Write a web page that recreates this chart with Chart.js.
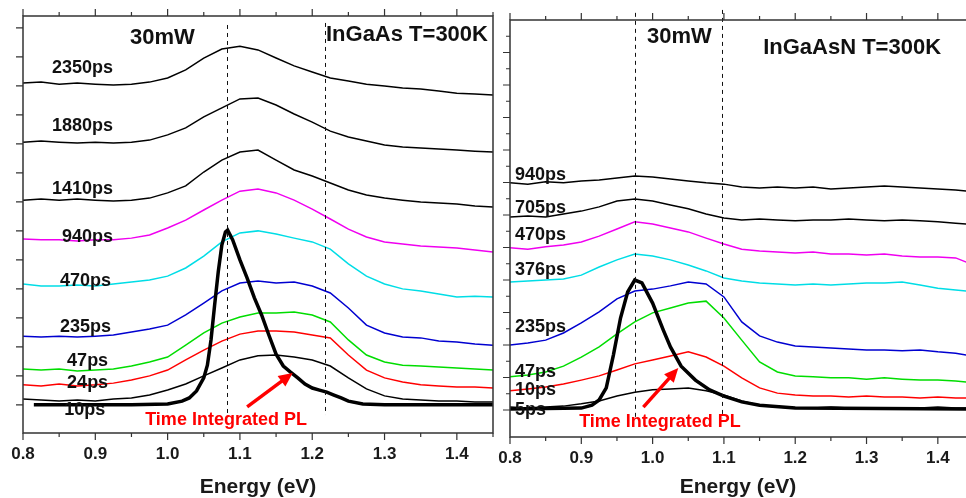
<!DOCTYPE html>
<html lang="en">

<head>
    <meta charset="UTF-8">
    <script src="https://cdn.jsdelivr.net/npm/chart.js"></script>
    <title>Time resolved PL - InGaAs / InGaAsN</title>
    <style>
        body { margin: 0; background: #fff; }
        #wrap { position: relative; width: 966px; height: 498px; overflow: hidden; }
        #leftChart { position: absolute; left: 0; top: 0; }
        #rightChart { position: absolute; left: 490px; top: 0; }
    </style>
</head>

<body>
    <div id="wrap">
        <canvas id="leftChart" width="500" height="498"></canvas>
        <canvas id="rightChart" width="476" height="498"></canvas>
    </div>
    <script>
        // energy grids (eV)
        const leftEnergy = [0.800, 0.825, 0.850, 0.875, 0.900, 0.925, 0.950, 0.975, 1.000, 1.025, 1.050, 1.075, 1.100, 1.125,
            1.150, 1.175, 1.200, 1.225, 1.250, 1.275, 1.300, 1.325, 1.350, 1.375, 1.400, 1.425, 1.450];
        const rightEnergy = [0.800, 0.825, 0.850, 0.875, 0.900, 0.925, 0.950, 0.975, 1.000, 1.025, 1.050, 1.075, 1.100, 1.125,
            1.150, 1.175, 1.200, 1.225, 1.250, 1.275, 1.300, 1.325, 1.350, 1.375, 1.400, 1.425, 1.440];

        // InGaAs, T=300K (stacked intensities, a.u.)
        const inGaAs10ps = [11.7, 11.4, 11.0, 11.4, 11.0, 11.7, 12.1, 13.1, 14.8, 16.9, 19.7, 22.4, 25.2, 26.6, 26.9, 26.2, 25.2, 23.1, 19.0, 15.2, 12.8, 11.7, 11.4, 11.0, 11.0, 10.7, 10.7];
        const inGaAs24ps = [16.6, 16.2, 16.9, 16.2, 16.6, 17.2, 18.3, 19.7, 21.7, 25.2, 28.6, 31.7, 34.1, 35.2, 35.2, 34.8, 33.8, 32.8, 26.9, 21.7, 19.0, 17.6, 16.6, 16.2, 15.9, 15.9, 15.5];
        const inGaAs47ps = [22.1, 21.7, 22.1, 21.4, 21.7, 22.1, 23.1, 24.5, 26.2, 30.3, 34.5, 37.9, 40.0, 41.4, 41.4, 41.7, 40.7, 38.3, 32.1, 26.9, 24.5, 23.4, 23.1, 22.8, 22.4, 22.1, 21.7];
        const inGaAs235ps = [33.4, 33.1, 33.4, 33.1, 33.4, 33.8, 34.8, 35.9, 37.2, 40.7, 44.8, 49.0, 51.7, 52.4, 51.7, 52.1, 50.7, 48.3, 43.1, 37.2, 34.5, 33.1, 32.8, 31.7, 31.4, 30.7, 30.3];
        const inGaAs470ps = [51.4, 50.7, 50.7, 51.0, 50.7, 51.4, 52.1, 52.8, 54.1, 56.9, 61.0, 65.9, 69.0, 69.7, 68.6, 67.2, 65.9, 63.4, 58.3, 54.1, 51.4, 49.7, 49.0, 47.9, 46.9, 47.2, 46.9];
        const inGaAs940ps = [66.9, 66.6, 66.6, 66.2, 66.6, 66.6, 67.2, 68.3, 70.7, 73.4, 76.9, 80.3, 83.4, 84.1, 82.8, 80.3, 77.2, 73.8, 70.3, 67.6, 65.9, 65.2, 64.5, 64.1, 63.8, 63.1, 62.4];
        const inGaAs1410ps = [80.3, 80.7, 80.3, 80.7, 80.3, 80.0, 80.3, 81.0, 82.8, 85.2, 90.0, 94.1, 96.9, 97.6, 94.1, 90.7, 88.6, 86.2, 83.8, 82.1, 81.0, 80.3, 79.7, 79.3, 79.0, 78.3, 77.9];
        const inGaAs1880ps = [100.3, 100.7, 100.3, 100.0, 100.3, 100.0, 100.3, 101.0, 102.8, 105.2, 109.0, 112.1, 115.2, 115.5, 113.1, 110.0, 107.2, 104.1, 102.1, 100.7, 99.3, 98.6, 98.3, 97.9, 97.6, 97.2, 96.9];
        const inGaAs2350ps = [120.7, 121.0, 120.3, 120.7, 120.3, 120.0, 120.3, 121.0, 122.4, 125.2, 129.3, 132.4, 133.4, 132.1, 129.3, 126.6, 124.5, 122.4, 121.4, 120.3, 119.7, 119.0, 118.6, 117.9, 117.2, 116.9, 116.6];

        const inGaAsPLEnergy = [0.815, 0.900, 0.950, 1.000, 1.020, 1.030, 1.040, 1.050, 1.055, 1.060, 1.065, 1.070, 1.075, 1.080, 1.083, 1.090, 1.100,
            1.110, 1.120, 1.130, 1.140, 1.150, 1.160, 1.170, 1.180, 1.190, 1.200, 1.210, 1.220, 1.230, 1.240, 1.250, 1.270, 1.300, 1.450];
        const inGaAsPL = [9.7, 9.7, 9.7, 10.0, 11.0, 12.1, 14.5, 19.0, 23.4, 32.1, 44.1, 55.5, 64.8, 69.3, 70.0, 66.6, 59.7,
            53.4, 46.6, 40.7, 33.8, 27.2, 23.1, 21.0, 19.0, 16.9, 15.5, 14.8, 14.1, 13.1, 12.1, 11.0, 10.0, 9.7, 9.7];

        // InGaAsN, T=300K
        const inGaAsN5ps = [9.2, 8.9, 9.2, 9.5, 10.2, 11.1, 12.6, 13.8, 14.5, 14.8, 15.1, 14.2, 12.9, 11.1, 9.8, 9.2, 8.9, 8.9, 9.2, 8.9, 8.9, 8.6, 8.9, 8.9, 9.2, 8.9, 8.9];
        const inGaAsN10ps = [14.2, 14.8, 15.4, 16.3, 17.5, 18.8, 20.6, 22.5, 23.7, 24.9, 26.2, 24.6, 21.8, 18.2, 15.1, 13.5, 12.9, 12.6, 12.6, 12.3, 12.6, 12.3, 12.3, 12.0, 12.3, 12.0, 12.0];
        const inGaAsN47ps = [18.5, 19.1, 20.0, 21.8, 24.6, 27.7, 31.7, 35.4, 38.2, 39.7, 41.2, 41.8, 36.6, 29.8, 23.1, 20.0, 18.8, 18.5, 18.2, 18.2, 17.8, 18.2, 17.8, 17.5, 17.5, 17.2, 16.9];
        const inGaAsN235ps = [28.3, 28.9, 29.8, 32.0, 35.1, 38.5, 42.5, 44.9, 45.5, 46.5, 47.7, 47.1, 43.1, 35.4, 31.1, 29.2, 28.0, 27.7, 27.4, 27.1, 26.8, 26.8, 26.5, 26.8, 26.2, 25.8, 25.2];
        const inGaAsN376ps = [47.7, 48.0, 48.3, 48.6, 49.8, 52.3, 54.5, 56.3, 55.7, 54.5, 52.9, 51.1, 48.9, 48.0, 47.4, 47.1, 46.8, 47.1, 46.8, 47.1, 47.4, 47.4, 47.7, 46.8, 45.8, 45.2, 44.9];
        const inGaAsN470ps = [58.2, 57.8, 58.5, 59.1, 60.0, 61.8, 64.0, 66.2, 65.5, 64.3, 63.1, 61.2, 59.4, 57.8, 57.2, 56.9, 56.6, 56.9, 56.3, 56.3, 56.0, 56.3, 55.7, 55.4, 55.4, 55.1, 53.8];
        const inGaAsN705ps = [67.7, 68.0, 67.7, 68.6, 69.5, 70.8, 72.6, 73.2, 72.6, 71.4, 70.2, 68.6, 67.4, 66.8, 67.1, 66.8, 66.5, 66.8, 66.8, 67.1, 66.8, 66.5, 66.8, 66.5, 66.2, 65.8, 65.5];
        const inGaAsN940ps = [78.2, 77.8, 78.5, 78.2, 78.8, 79.1, 79.7, 80.3, 80.0, 79.4, 78.8, 78.2, 77.8, 76.9, 76.6, 76.9, 76.6, 76.9, 76.3, 76.6, 76.9, 77.2, 76.9, 76.6, 76.3, 76.0, 75.7];

        const inGaAsNPLEnergy = [0.800, 0.900, 0.915, 0.925, 0.935, 0.945, 0.955, 0.965, 0.975, 0.985, 1.000, 1.015, 1.025, 1.040, 1.060, 1.080, 1.100, 1.125, 1.150, 1.200, 1.440];
        const inGaAsNPL = [8.6, 8.9, 9.8, 11.4, 15.1, 25.2, 36.6, 44.6, 48.3, 47.4, 41.2, 32.9, 27.7, 21.8, 17.5, 14.5, 12.6, 10.8, 9.8, 8.9, 8.6];

        const inGaAsDelays = ['10ps', '24ps', '47ps', '235ps', '470ps', '940ps', '1410ps', '1880ps', '2350ps'];
        const inGaAsSpectra = [inGaAs10ps, inGaAs24ps, inGaAs47ps, inGaAs235ps, inGaAs470ps, inGaAs940ps, inGaAs1410ps, inGaAs1880ps, inGaAs2350ps];
        const inGaAsColors = ['#000000', '#ff0000', '#00dd00', '#0000d0', '#00dde6', '#f000f0', '#000000', '#000000', '#000000'];

        const inGaAsNDelays = ['5ps', '10ps', '47ps', '235ps', '376ps', '470ps', '705ps', '940ps'];
        const inGaAsNSpectra = [inGaAsN5ps, inGaAsN10ps, inGaAsN47ps, inGaAsN235ps, inGaAsN376ps, inGaAsN470ps, inGaAsN705ps, inGaAsN940ps];
        const inGaAsNColors = ['#000000', '#ff0000', '#00dd00', '#0000d0', '#00dde6', '#f000f0', '#000000', '#000000'];

        const FONT = "'Liberation Sans', Arial, sans-serif";
        Chart.defaults.font.family = FONT;

        const toPoints = (energy, values) => energy.map((e, i) => ({ x: e, y: values[i] }));

        // frame, ticks, dashed guides, labels and arrow
        const panelDecor = {
            id: 'panelDecor',
            afterDatasetsDraw(chart, args, o) {
                const { ctx } = chart;
                const x = chart.scales.x, y = chart.scales.y;
                ctx.save();

                ctx.setLineDash([4, 4]);
                ctx.lineWidth = 1;
                ctx.strokeStyle = '#111';
                o.guides.forEach(g => {
                    const px = Math.round(x.getPixelForValue(g.x)) + 0.5;
                    ctx.beginPath();
                    ctx.moveTo(px, y.getPixelForValue(g.from));
                    ctx.lineTo(px, y.getPixelForValue(g.to));
                    ctx.stroke();
                });
                ctx.setLineDash([]);

                ctx.textAlign = 'left';
                ctx.textBaseline = 'middle';
                ctx.fillStyle = '#111';
                ctx.font = 'bold 18px ' + FONT;
                o.delays.forEach((t, i) => {
                    const p = o.labelPos[i];
                    ctx.fillText(t, x.getPixelForValue(p[0]), y.getPixelForValue(p[1]));
                });

                ctx.font = 'bold 22px ' + FONT;
                o.headers.forEach(h => ctx.fillText(h.text, x.getPixelForValue(h.at[0]), y.getPixelForValue(h.at[1])));

                ctx.fillStyle = '#f00';
                ctx.strokeStyle = '#f00';
                ctx.font = 'bold 18px ' + FONT;
                ctx.fillText('Time Integrated PL', x.getPixelForValue(o.note[0]), y.getPixelForValue(o.note[1]));

                const x0 = x.getPixelForValue(o.arrow[0]), y0 = y.getPixelForValue(o.arrow[1]);
                const x1 = x.getPixelForValue(o.arrow[2]), y1 = y.getPixelForValue(o.arrow[3]);
                const ang = Math.atan2(y1 - y0, x1 - x0);
                const c = Math.cos(ang), s = Math.sin(ang);
                ctx.lineWidth = 3.5;
                ctx.beginPath();
                ctx.moveTo(x0, y0);
                ctx.lineTo(x1 - 9 * c, y1 - 9 * s);
                ctx.stroke();
                ctx.beginPath();
                ctx.moveTo(x1, y1);
                ctx.lineTo(x1 - 14 * c + 6.5 * s, y1 - 14 * s - 6.5 * c);
                ctx.lineTo(x1 - 14 * c - 6.5 * s, y1 - 14 * s + 6.5 * c);
                ctx.closePath();
                ctx.fill();
                ctx.restore();
            },
            afterDraw(chart, args, o) {
                const { ctx, chartArea: a } = chart;
                const x = chart.scales.x, y = chart.scales.y;
                ctx.save();
                ctx.strokeStyle = '#333';
                ctx.lineWidth = 1.5;
                ctx.beginPath();
                if (o.rightBorder) {
                    ctx.rect(a.left, a.top, a.right - a.left, a.bottom - a.top);
                } else {
                    ctx.moveTo(a.right, a.top);
                    ctx.lineTo(a.left, a.top);
                    ctx.lineTo(a.left, a.bottom);
                    ctx.lineTo(a.right, a.bottom);
                }
                ctx.stroke();

                ctx.lineWidth = 1.2;
                ctx.beginPath();
                for (let i = 0; ; i++) {
                    const v = x.min + i * 0.05;
                    if (v > x.max + 1e-6) break;
                    const px = x.getPixelForValue(v);
                    const len = i % 2 === 0 ? 7 : 4;
                    ctx.moveTo(px, a.bottom);
                    ctx.lineTo(px, a.bottom + len);
                    ctx.moveTo(px, a.top);
                    ctx.lineTo(px, a.top - len);
                }
                for (let i = 0; ; i++) {
                    const v = o.yTickStart + i * o.yTickStep;
                    if (v > y.max - 0.5) break;
                    const py = y.getPixelForValue(v);
                    const len = i % o.yMajorEvery === 0 ? 7 : 4;
                    ctx.moveTo(a.left, py);
                    ctx.lineTo(a.left - len, py);
                }
                ctx.stroke();
                ctx.restore();
            }
        };

        const buildChart = (id, datasets, xMax, yMax, padding, yWidth, xHeight, decor) => new Chart(document.getElementById(id), {
            type: 'line',
            data: { datasets: datasets },
            options: {
                responsive: false,
                animation: false,
                layout: { padding: padding },
                elements: { point: { radius: 0 }, line: { tension: 0 } },
                plugins: { legend: { display: false }, tooltip: { enabled: false }, panelDecor: decor },
                scales: {
                    x: {
                        type: 'linear', min: 0.8, max: xMax,
                        grid: { display: false, drawTicks: false },
                        border: { display: false },
                        ticks: {
                            stepSize: 0.1, includeBounds: false, padding: 11, maxRotation: 0, autoSkip: false,
                            color: '#1a1a1a', font: { size: 17, weight: 'bold' },
                            callback: v => Number(v).toFixed(1)
                        },
                        title: { display: true, text: 'Energy (eV)', color: '#1a1a1a', font: { size: 21, weight: 'bold' }, padding: { top: 0, bottom: -2 } },
                        afterFit: s => { s.height = xHeight; s.paddingLeft = 0; s.paddingRight = 0; }
                    },
                    y: {
                        type: 'linear', min: 0, max: yMax,
                        grid: { display: false, drawTicks: false },
                        border: { display: false },
                        ticks: { display: false },
                        afterFit: s => { s.width = yWidth; }
                    }
                }
            },
            plugins: [panelDecor]
        });

        // left panel: InGaAs
        const leftSets = [{ data: toPoints(inGaAsPLEnergy, inGaAsPL), borderColor: '#000', borderWidth: 3.5 }]
            .concat(inGaAsSpectra.map((vals, i) => ({ data: toPoints(leftEnergy, vals), borderColor: inGaAsColors[i], borderWidth: 1.5 })));

        buildChart('leftChart', leftSets, 1.45, 143.8, { top: 16, right: 7, left: 0, bottom: 0 }, 23, 65, {
            rightBorder: true,
            yTickStart: 9.7, yTickStep: 10, yMajorEvery: 1,
            guides: [{ x: 1.082, from: 140.7, to: 6.9 }, { x: 1.218, from: 141.4, to: 6.2 }],
            delays: inGaAsDelays,
            labelPos: [[0.857, 7.9], [0.861, 17.2], [0.861, 24.8], [0.851, 36.6], [0.851, 52.4], [0.854, 67.6], [0.840, 84.1], [0.840, 105.9], [0.840, 125.9]],
            headers: [{ text: '30mW', at: [0.948, 136.2] }, { text: 'InGaAs T=300K', at: [1.219, 137.2] }],
            note: [0.969, 4.5],
            arrow: [1.110, 9.0, 1.173, 20.7]
        });

        // right panel: InGaAsN
        const rightSets = [{ data: toPoints(inGaAsNPLEnergy, inGaAsNPL), borderColor: '#000', borderWidth: 3.5 }]
            .concat(inGaAsNSpectra.map((vals, i) => ({ data: toPoints(rightEnergy, vals), borderColor: inGaAsNColors[i], borderWidth: 1.5 })));

        buildChart('rightChart', rightSets, 1.4395, 128.3, { top: 20, right: 0, left: 0, bottom: 0 }, 20, 61, {
            rightBorder: false,
            yTickStart: 8.3, yTickStep: 5, yMajorEvery: 2,
            guides: [{ x: 0.975, from: 130.5, to: 5.2 }, { x: 1.097, from: 131.4, to: 5.8 }],
            delays: inGaAsNDelays,
            labelPos: [[0.807, 8.3], [0.807, 14.5], [0.807, 20.0], [0.807, 33.8], [0.807, 51.4], [0.807, 62.2], [0.807, 70.5], [0.807, 80.6]],
            headers: [{ text: '30mW', at: [0.992, 123.1] }, { text: 'InGaAsN T=300K', at: [1.155, 119.7] }],
            note: [0.897, 4.6],
            arrow: [0.987, 9.2, 1.036, 21.2]
        });
    </script>
</body>

</html>
